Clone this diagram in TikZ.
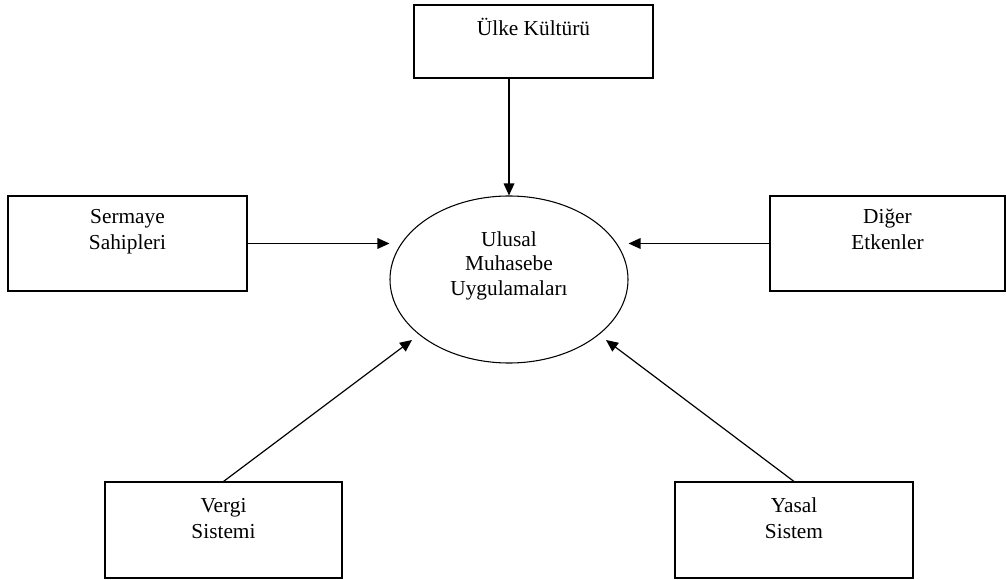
\documentclass[tikz,border=0pt]{standalone}
\usepackage{fontspec}
\setmainfont{Liberation Serif}
\usetikzlibrary{arrows.meta,shapes.geometric}
\tikzset{
  box/.style={draw, line width=0.8pt, inner sep=0pt, align=center,
    font=\fontsize{16}{19.5}\selectfont},
  arr/.style={line width=0.9pt, -{Triangle[length=9pt,width=8pt]}}
}
\begin{document}
\begin{tikzpicture}[x=0.75pt, y=-0.75pt]
  \useasboundingbox (0, 0) rectangle (1006, 580);
  % center
  \node [ellipse, draw, line width=0.8pt, inner sep=0pt, align=center,
    minimum width=178.5pt, minimum height=125.25pt,
    text height=50pt, text depth=26.2pt,
    font=\fontsize{16}{18.5}\selectfont] (ulusal) at (509, 279.5)
    {Ulusal\\Muhasebe\\Uygulamaları};
  % factors
  \node [box, minimum width=179.25pt, text height=23pt, text depth=31.75pt] (kultur) at (533.5, 41.5) {Ülke Kültürü};
  \node [box, minimum width=179.25pt, text height=40.5pt, text depth=30.75pt] (sermaye) at (127.5, 243.5) {Sermaye\\Sahipleri};
  \node [box, minimum width=176.25pt, text height=40.5pt, text depth=30.75pt] (diger) at (887.5, 243.5) {Diğer\\Etkenler};
  \node [box, minimum width=177.75pt, text height=42pt, text depth=30pt] (vergi) at (223.5, 530) {Vergi\\Sistemi};
  \node [box, minimum width=178.5pt, text height=42pt, text depth=30pt] (yasal) at (794, 530) {Yasal\\Sistem};
  \coordinate (vtip) at (412, 340);
  \coordinate (ytip) at (606, 340);
  % arrows
  \draw [arr] (kultur.south -| ulusal.north) -- (ulusal.north);
  \draw [arr] (sermaye.east) -- (sermaye.east -| ulusal.west);
  \draw [arr] (diger.west) -- (diger.west -| ulusal.east);
  \draw [arr] (vergi.north) -- (vtip);
  \draw [arr] (yasal.north) -- (ytip);
\end{tikzpicture}
\end{document}
